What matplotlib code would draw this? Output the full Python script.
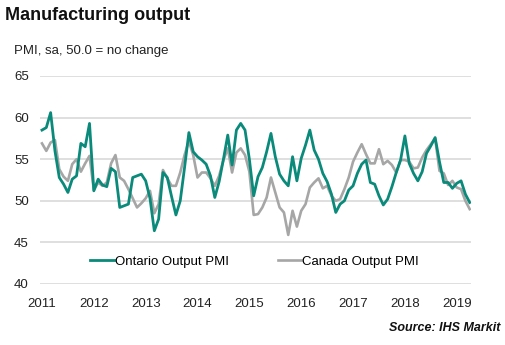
import matplotlib
matplotlib.use("Agg")
import matplotlib.pyplot as plt
import numpy as np

plt.rcParams['font.family'] = ['Liberation Sans', 'DejaVu Sans']

years = ["2011", "2012", "2013", "2014", "2015", "2016", "2017", "2018", "2019"]

# Monthly values, Jan 2011 - Apr 2019
ontario = [58.5, 58.8, 60.6, 56.0, 52.8, 52.0, 51.0, 52.6, 53.0, 56.9, 56.5, 59.3,
           51.2, 52.6, 51.9, 51.7, 53.9, 53.5, 49.2, 49.4, 49.6, 52.8, 53.0, 53.2,
           52.4, 50.3, 46.4, 47.8, 53.4, 52.8, 50.5, 48.3, 50.0, 54.0, 58.2, 55.9,
           55.3, 54.9, 54.4, 53.0, 50.4, 52.3, 55.0, 57.9, 54.3, 58.5, 59.3, 58.5,
           55.0, 50.6, 52.9, 54.0, 55.9, 58.1, 55.3, 53.2, 52.4, 51.8, 55.3, 52.4,
           55.1, 56.7, 58.5, 56.1, 55.0, 53.3, 52.3, 50.8, 48.6, 49.6, 50.0, 51.3,
           51.8, 53.3, 54.4, 54.9, 52.2, 52.0, 50.6, 49.5, 50.2, 51.7, 53.4, 54.9,
           57.8, 54.5, 53.3, 52.4, 53.5, 55.7, 56.6, 57.6, 54.7, 52.2, 52.2, 51.5,
           52.1, 52.4, 50.8, 49.8]

canada = [56.9, 56.0, 57.0, 57.3, 53.8, 52.9, 52.4, 54.4, 55.0, 53.5, 54.5, 55.4,
          51.3, 52.2, 51.8, 52.2, 54.5, 55.5, 52.8, 52.4, 51.4, 50.3, 49.2, 49.7,
          50.3, 51.2, 48.5, 49.6, 53.7, 52.7, 51.8, 51.8, 53.4, 55.5, 57.2, 55.5,
          52.8, 53.4, 53.4, 52.7, 51.8, 53.0, 54.9, 56.3, 53.4, 55.8, 56.3, 55.5,
          53.5, 48.3, 48.4, 49.2, 50.4, 52.8, 51.0, 49.2, 48.6, 45.9, 48.8, 46.9,
          48.8, 49.6, 51.6, 52.2, 52.7, 51.5, 51.8, 50.6, 50.0, 50.2, 51.4, 52.8,
          54.7, 55.8, 56.8, 55.6, 54.5, 54.5, 56.2, 54.4, 54.8, 54.3, 53.4, 54.9,
          54.9, 54.7, 53.9, 54.0, 55.2, 56.1, 56.8, 57.5, 53.6, 53.3, 51.9, 52.4,
          51.6, 51.4, 50.0, 49.0]

yticks = [40, 45, 50, 55, 60, 65]

fig = plt.figure(figsize=(5.05, 3.45), dpi=100)
ax = fig.add_axes([40/505, 1-284/345, 431/505, 208/345])

x = np.arange(len(ontario))
ax.plot(x, ontario, color='#0a8a7a', lw=2.0, label='Ontario Output PMI', zorder=3)
ax.plot(x, canada, color='#a6a6a6', lw=1.9, label='Canada Output PMI', zorder=2)

ax.set_ylim(40, 65)
ax.set_xlim(-0.46, 99.3)
ax.set_yticks(yticks)
ax.set_xticks([12*i for i in range(len(years))])
ax.set_xticklabels(years)
ax.grid(axis='y', color='#d9d9d9', lw=1.2)
ax.set_axisbelow(True)
for s in ax.spines.values():
    s.set_visible(False)
ax.tick_params(axis='both', length=0, labelsize=9.5, colors='#222222')
ax.tick_params(axis='y', pad=8)
ax.tick_params(axis='x', pad=10)

leg = ax.legend(loc='center', bbox_to_anchor=(0.498, 0.106), ncol=2, frameon=False,
                fontsize=9.5, handlelength=1.75, handletextpad=0.1, columnspacing=3.7)

fig.text(5/505, 1-16/345, 'Manufacturing output', fontsize=13, fontweight='bold',
         va='center', ha='left', color='#111111')
fig.text(14/505, 1-51/345, 'PMI, sa, 50.0 = no change', fontsize=9.5,
         va='center', ha='left', color='#222222')
fig.text(500/505, 1-328/345, 'Source: IHS Markit', fontsize=9, fontweight='bold',
         style='italic', va='center', ha='right', color='#111111')

fig.savefig('out.png', dpi=100)
